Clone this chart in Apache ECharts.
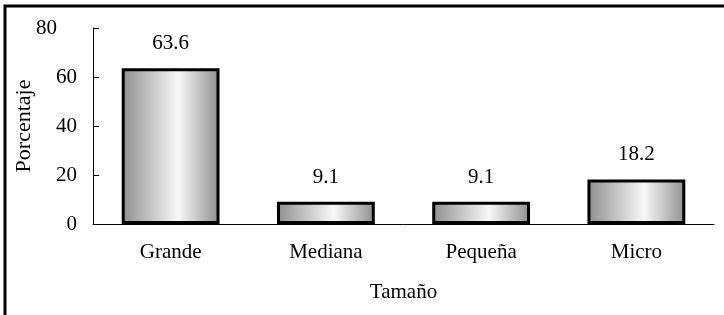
<!DOCTYPE html>
<html>
<head>
<meta charset="utf-8">
<script src="https://cdn.jsdelivr.net/npm/echarts@6/dist/echarts.min.js"></script>
<style>
  html, body { margin: 0; padding: 0; background: #fff; }
  #chart { width: 724px; height: 315px; }
</style>
</head>
<body>
<div id="chart"></div>
<script>
// datos
const categorias = ['Grande', 'Mediana', 'Pequeña', 'Micro']
const porcentajes = [63.6, 9.1, 9.1, 18.2]
const ejeY = { min: 0, max: 80, interval: 20 }

const fuente = 'Liberation Serif'

const chart = echarts.init(document.getElementById('chart'))

const relleno = new echarts.graphic.LinearGradient(0, 0, 1, 0, [
  { offset: 0, color: '#8e8e8e' },
  { offset: 0.58, color: '#f8f8f8' },
  { offset: 1, color: '#8e8e8e' }
])

chart.setOption({
  backgroundColor: '#fff',
  animation: false,
  textStyle: { fontFamily: fuente, color: '#000' },
  graphic: [{
    type: 'rect',
    shape: { x: 5, y: 6, width: 760, height: 340 },
    style: { fill: 'none', stroke: '#000', lineWidth: 3 }
  }],
  grid: { left: 93, right: 10, top: 28, bottom: 91, containLabel: false, outerBoundsMode: 'none' },
  xAxis: {
    type: 'category',
    data: categorias,
    name: 'Tamaño',
    nameLocation: 'middle',
    nameGap: 58,
    nameMoveOverlap: false,
    nameTextStyle: { fontFamily: fuente, fontSize: 21, color: '#000' },
    axisLine: { lineStyle: { color: '#000', width: 1 } },
    axisTick: { inside: true, length: 6, lineStyle: { color: '#000' } },
    axisLabel: { fontFamily: fuente, fontSize: 21, color: '#000', margin: 18 }
  },
  yAxis: {
    type: 'value',
    min: ejeY.min,
    max: ejeY.max,
    interval: ejeY.interval,
    name: 'Porcentaje',
    nameLocation: 'middle',
    nameGap: 58,
    nameMoveOverlap: false,
    nameTextStyle: { fontFamily: fuente, fontSize: 22, color: '#000' },
    axisLine: { show: true, lineStyle: { color: '#000', width: 1 } },
    axisTick: { show: true, inside: true, length: 6, lineStyle: { color: '#000' } },
    axisLabel: {
      fontFamily: fuente,
      fontSize: 21,
      color: '#000',
      margin: 16,
      formatter: v => v === ejeY.max ? '{tope|' + v + '}' : String(v),
      rich: { tope: { fontFamily: fuente, fontSize: 21, color: '#000', padding: [0, 20, 0, 0] } }
    },
    splitLine: { show: false }
  },
  series: [{
    type: 'bar',
    data: porcentajes,
    barWidth: '63%',
    itemStyle: { color: relleno, borderColor: '#000', borderWidth: 3 },
    label: {
      show: true,
      position: 'top',
      distance: 14,
      fontFamily: fuente,
      fontSize: 21,
      color: '#000',
      formatter: p => p.value.toFixed(1)
    }
  }]
})
</script>
</body>
</html>
